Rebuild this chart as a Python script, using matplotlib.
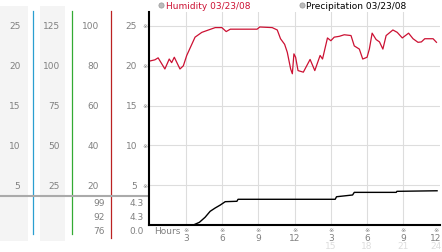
import matplotlib
matplotlib.use("Agg")
import matplotlib.pyplot as plt
import matplotlib.transforms as mtransforms

# ---- data ----
hum_hours = [0, 0.42, 0.69, 1.25, 1.61, 1.81, 2.03, 2.5, 2.78, 3.06, 3.75, 4.31,
             4.86, 5.42, 5.97, 6.33, 6.67, 8.89, 9.11, 10.14, 10.56, 10.83, 11.17,
             11.39, 11.67, 11.81, 11.94, 12.08, 12.28, 12.72, 13.28, 13.67, 14.11,
             14.31, 14.72, 15.0, 15.28, 15.69, 16.11, 16.67, 16.94, 17.36, 17.64,
             18.0, 18.19, 18.42, 18.75, 19.03, 19.31, 19.58, 20.14, 20.5, 20.92,
             21.44, 21.81, 22.22, 22.5, 22.78, 23.47, 23.75]
humidity = [82.4, 83, 84, 78.4, 83.4, 81.6, 84.3, 78.4, 80, 85.2, 94.4, 96.8,
            98, 99.2, 99.2, 97.2, 98.4, 98.4, 99.5, 99.2, 98, 93.6, 90.8,
            86.8, 78.4, 76, 86, 84.3, 77.6, 76.8, 83.2, 77.6, 85.2,
            83.4, 94, 92.6, 94.4, 94.8, 95.6, 95.2, 90, 88.4, 83.4,
            84.3, 88.4, 96.4, 93.2, 92, 88.4, 95.2, 98, 96.8, 94,
            96.4, 93.6, 91.8, 92, 93.6, 93.6, 91.8]

precip_hours = [0, 3.61, 4.11, 4.58, 5.0, 5.42, 5.83, 6.25, 7.22, 7.31, 15.36,
                15.47, 16.8, 16.94, 20.42, 20.47, 23.8]
precip = [0, 0, 0.34, 0.97, 1.72, 2.14, 2.5, 2.93, 2.98, 3.23, 3.23,
          3.55, 3.77, 4.1, 4.1, 4.23, 4.3]

main_ticks = [25, 20, 15, 10, 5]
col_a = ["25", "20", "15", "10", "5"]
col_b = ["125", "100", "75", "50", "25"]
col_c = ["100", "80", "60", "40", "20"]
hum_stats = ["99", "92", "76"]
precip_stats = ["4.3", "4.3", "0.0"]

hour_ticks = [3, 6, 9, 12, 15, 18, 21, 24]
hour_labels = ["3", "6", "9", "12", "3", "6", "9", "12"]
hour_labels2 = ["", "", "", "", "15", "18", "21", "24"]
grid_hours = [3, 6, 9, 12, 15, 18, 21]

W, H = 442, 253
fig = plt.figure(figsize=(W / 100, H / 100), dpi=100)

# background overlay in pixel coordinates
ax0 = fig.add_axes([0, 0, 1, 1], zorder=0)
ax0.set_xlim(0, W)
ax0.set_ylim(H, 0)
ax0.axis("off")

# main plot area
left, right, top, bottom = 149, 440, 13, 226
px_hour = 12.07
ax = fig.add_axes([left / W, (H - bottom) / H, (right - left) / W, (bottom - top) / H],
                  zorder=1)
ax.set_facecolor("none")
x0 = -0.8 / px_hour
ax.set_xlim(x0, x0 + (right - left) / px_hour)
ax.set_ylim(0, 25 * (bottom - top) / 199)
for s in ["top", "right"]:
    ax.spines[s].set_visible(False)
ax.spines["left"].set_linewidth(1.5)
ax.spines["bottom"].set_linewidth(1.5)
ax.set_xticks([])
ax.set_yticks([])
for v in main_ticks:
    ax.axhline(v, color="#dddddd", lw=0.8, zorder=0)
for h in grid_hours:
    ax.axvline(h, color="#dddddd", lw=0.8, zorder=0)

ax.plot(hum_hours, [v / 4 for v in humidity], color="#cc1133", lw=0.9)
ax.plot(precip_hours, precip, color="black", lw=1.0)

# left panel
gray = "#808080"
ax0.add_patch(plt.Rectangle((0, 7), 28, 235, color="#f4f4f4", lw=0))
ax0.add_patch(plt.Rectangle((40, 7), 25, 235, color="#f4f4f4", lw=0))
ax0.plot([33, 33], [12, 235], color="#2a9fd0", lw=0.9)
ax0.plot([72, 72], [12, 235], color="#33aa33", lw=0.9)
ax0.plot([111, 111], [12, 239], color="#bb2222", lw=0.9)
ax0.plot([0, 148], [196.5, 196.5], color="#aaaaaa", lw=1.5)

ty = mtransforms.blended_transform_factory(ax0.transData, ax.transData)
fs = 6.5
for i, v in enumerate(main_ticks):
    ax0.text(20.5, v, col_a[i], transform=ty, ha="right", va="center", fontsize=fs, color=gray)
    ax0.text(60, v, col_b[i], transform=ty, ha="right", va="center", fontsize=fs, color=gray)
    ax0.text(99, v, col_c[i], transform=ty, ha="right", va="center", fontsize=fs, color=gray)
    ax0.text(137, v, str(v), transform=ty, ha="right", va="center", fontsize=fs, color=gray)
    ax0.text(145.5, v, "\u203b", transform=ty, ha="center", va="center", fontsize=4.5, color=gray)

for i, yy in enumerate([204, 218, 232]):
    ax0.text(105, yy, hum_stats[i], ha="right", va="center", fontsize=fs, color=gray)
    ax0.text(144, yy, precip_stats[i], ha="right", va="center", fontsize=fs, color=gray)

# hours axis
tx = mtransforms.blended_transform_factory(ax.transData, ax0.transData)
ax0.text(154, 232, "Hours", ha="left", va="center", fontsize=fs, color=gray)
for i, h in enumerate(hour_ticks):
    hx = min(h, 23.7)  # last label pulled in so it fits
    ax0.text(hx, 231, "\u203b", transform=tx, ha="center", va="center", fontsize=4.5, color=gray)
    ax0.text(hx, 239, hour_labels[i], transform=tx, ha="center", va="center", fontsize=fs, color=gray)
    if hour_labels2[i]:
        ax0.text(hx, 247, hour_labels2[i], transform=tx, ha="center", va="center",
                 fontsize=fs, color="#dddddd")

# legend
ax0.scatter([160.7, 302], [6, 6], s=14, color="#bbbbbb", edgecolor="#999999", lw=0.5)
ax0.text(166, 6.5, "Humidity 03/23/08", ha="left", va="center", fontsize=fs, color="#cc1133")
ax0.text(306, 6.5, "Precipitation 03/23/08", ha="left", va="center", fontsize=fs, color="black")

fig.savefig("out.png", dpi=100)
